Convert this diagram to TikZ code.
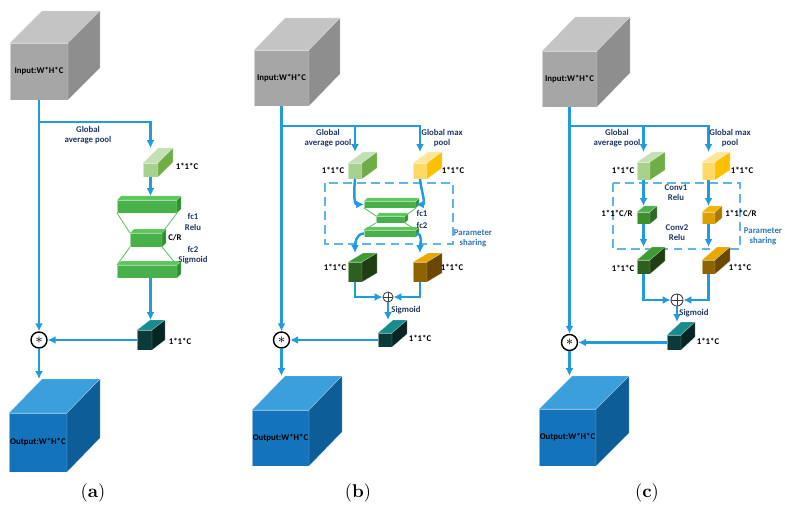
\documentclass[tikz,border=0pt]{standalone}
\usepackage{fontspec}
\newfontfamily\lblfont{Carlito}
\usetikzlibrary{arrows.meta,calc}

\definecolor{flowblue}{HTML}{1F9BDE}
\definecolor{shareblue}{HTML}{5DB6E8}
\definecolor{navy}{HTML}{1F3864}
\definecolor{psblue}{HTML}{2E75B6}
\definecolor{grayF}{HTML}{A6A6A6}\definecolor{grayT}{HTML}{C4C4C4}\definecolor{grayS}{HTML}{8E8E8E}
\definecolor{blueF}{HTML}{1474BB}\definecolor{blueT}{HTML}{3B9FDB}\definecolor{blueS}{HTML}{0D5E98}
\definecolor{lgreenF}{HTML}{A9D18E}\definecolor{lgreenT}{HTML}{C5E0B4}\definecolor{lgreenS}{HTML}{70AD47}
\definecolor{yellowF}{HTML}{FFD966}\definecolor{yellowT}{HTML}{FFE699}\definecolor{yellowS}{HTML}{FFC000}
\definecolor{fcF}{HTML}{48B048}\definecolor{fcT}{HTML}{5CC45C}\definecolor{fcS}{HTML}{2F8F2F}
\definecolor{dgreenF}{HTML}{2D5F1E}\definecolor{dgreenT}{HTML}{3E9A32}\definecolor{dgreenS}{HTML}{1F3F13}
\definecolor{brownF}{HTML}{8F6400}\definecolor{brownT}{HTML}{E8A800}\definecolor{brownS}{HTML}{6A4800}
\definecolor{tealF}{HTML}{0B3A3A}\definecolor{tealT}{HTML}{178C8C}\definecolor{tealS}{HTML}{062626}
\definecolor{rgreenF}{HTML}{3B8F2E}\definecolor{rgreenT}{HTML}{4CAF50}\definecolor{rgreenS}{HTML}{2C6B21}
\definecolor{orangeF}{HTML}{DDA000}\definecolor{orangeT}{HTML}{F2B600}\definecolor{orangeS}{HTML}{A87A00}

% name, x, y (front top left, px), width, height, depth x, depth y, colour, text
\newcommand{\cuboid}[9]{%
	\node[cubefront, fill=#8F, minimum width=#4*0.02cm, minimum height=#5*0.02cm] (#1) at (#2,-#3) {#9};
	\filldraw[cubeface, fill=#8T] (#1.north west) -- ++(#6,#7) -- ++(#4,0) -- (#1.north east) -- cycle;
	\filldraw[cubeface, fill=#8S] (#1.north east) -- ++(#6,#7) -- ++(0,-#5) -- (#1.south east) -- cycle;
	\coordinate (#1t) at ($(#1.north)+(0,#7)$);
}

\begin{document}
\begin{tikzpicture}[x=0.02cm, y=0.02cm]
	\tikzstyle{every node}=[inner sep=1pt]
	\tikzstyle{cubefront}=[anchor=north west, inner sep=0, outer sep=0, draw=white, draw opacity=0.5, line width=0.2pt, font=\lblfont\bfseries\fontsize{5}{6}\selectfont]
	\tikzstyle{cubeface}=[draw=white, draw opacity=0.5, line width=0.2pt, line join=round]
	\tikzstyle{flow}=[draw=flowblue, line width=1.4pt, -{Latex[length=4.5pt,width=4.5pt]}]
	\tikzstyle{fcline}=[draw=fcT, line width=0.5pt]
	\tikzstyle{share}=[draw=shareblue, line width=0.7pt, dash pattern=on 5pt off 3pt]
	\tikzstyle{lbl}=[align=center, inner sep=0, font=\lblfont\bfseries\fontsize{5}{5.8}\selectfont]
	\tikzstyle{lbln}=[lbl, text=navy]
	\tikzstyle{psl}=[lbl, text=psblue]
	\tikzstyle{mulop}=[circle, draw, line width=0.8pt, minimum size=16*0.02cm, inner sep=0, font=\fontsize{8}{8}\selectfont]
	\tikzstyle{addop}=[circle, draw=black!75, line width=0.5pt, minimum size=10*0.02cm, inner sep=0,
		path picture={\draw[black!75, line width=0.5pt] (path picture bounding box.north) -- (path picture bounding box.south) (path picture bounding box.west) -- (path picture bounding box.east);}]
	\tikzstyle{captext}=[font=\fontsize{10.5}{12}\selectfont]

	\useasboundingbox (0,0) rectangle (785,-510);

	% (a)
	\cuboid{ain}{10}{43}{58}{57}{32}{32}{gray}{Input:W*H*C}
	\cuboid{agap}{143}{163}{15}{14}{15}{15}{lgreen}{}
	\cuboid{afc1}{117}{200}{60}{13}{4}{4}{fc}{}
	\cuboid{acr}{130}{233}{32}{14}{4}{4}{fc}{}
	\cuboid{afc2}{117}{265}{60}{13}{4}{4}{fc}{}
	\cuboid{asig}{137}{330}{15}{20}{13}{10}{teal}{}
	\cuboid{aout}{9}{413}{58}{59}{33}{34}{blue}{Output:W*H*C}
	\node[mulop] (amul) at (39,-340) {$\ast$};
	\coordinate (asplit) at (39,-122);

	\draw[fcline] (afc1.south west) -- (acr.north west);
	\draw[fcline] (afc1.south east) -- (acr.north east);
	\draw[fcline] (acr.south west) -- (afc2.north west);
	\draw[fcline] (acr.south east) -- (afc2.north east);

	\draw[flow] (ain.south) -- (amul.north);
	\draw[flow] (asplit) -| (agapt);
	\draw[flow] (agap.south) -- (agap.south |- afc1t);
	\draw[flow] (agap.south |- afc2.south) -- (agap.south |- asigt);
	\draw[flow] (asig.west) -- (amul.east);
	\draw[flow] (amul.south) -- (amul.south |- aoutt);

	\node[lbln] (agpl) at (88,-135) {Global\\average pool};
	\node[lbl] (agapl) at (187,-166) {1*1*C};
	\node[lbln] (afc1l) at (193,-222) {fc1\\Relu};
	\node[lbl] (acrl) at (175,-238) {C/R};
	\node[lbln] (afc2l) at (193,-255) {fc2\\Sigmoid};
	\node[lbl] (asigl) at (180,-341) {1*1*C};
	\node[captext] (acap) at (93,-493) {(\textbf{a})};

	% (b)
	\draw[share] (325,-183) rectangle (453,-244);
	\cuboid{bin}{254}{50}{55}{56}{31}{32}{gray}{Input:W*H*C}
	\cuboid{bavg}{348}{163}{14}{16}{15}{11}{lgreen}{}
	\cuboid{bmax}{413}{163}{14}{16}{15}{11}{yellow}{}
	\cuboid{bfc1}{364}{201}{52}{7}{3}{3}{fc}{}
	\cuboid{bmid}{376}{216}{29}{7}{3}{3}{fc}{}
	\cuboid{bfc2}{364}{230}{52}{7}{3}{3}{fc}{}
	\cuboid{bavgo}{348}{262}{14}{20}{15}{9}{dgreen}{}
	\cuboid{bmaxo}{413}{262}{14}{20}{15}{9}{brown}{}
	\cuboid{bsig}{378}{333}{14}{14}{15}{13}{teal}{}
	\cuboid{bout}{252}{410}{57}{56}{33}{34}{blue}{Output:W*H*C}
	\node[addop] (badd) at (388,-297) {};
	\node[mulop] (bmul) at (281.5,-340) {$\ast$};
	\coordinate (bsplit) at (281.5,-126);

	\draw[fcline] (bfc1.south west) -- (bmid.north west);
	\draw[fcline] (bfc1.south east) -- (bmid.north east);
	\draw[fcline] (bmid.south west) -- (bfc2.north west);
	\draw[fcline] (bmid.south east) -- (bfc2.north east);

	\draw[flow] (bin.south) -- (bmul.north);
	\draw[flow] (bsplit) -| (bmaxt);
	\draw[flow] (bavgt |- bsplit) -- (bavgt);
	\draw[flow] (bavg.south) to[out=-95, in=180] (bfc1.west);
	\draw[flow] (bmax.south) to[out=-85, in=0] (bfc1.east);
	\draw[flow] (bfc2.west) to[out=180, in=90] (bavgot);
	\draw[flow] (bfc2.east) to[out=0, in=90] (bmaxot);
	\draw[flow] (bavgo.south) |- (badd.west);
	\draw[flow] (bmaxo.south) |- (badd.east);
	\draw[flow] (badd.south) -- (badd.south |- bsigt);
	\draw[flow] (bsig.west) -- (bmul.east);
	\draw[flow] (bmul.south) -- (bmul.south |- boutt);

	\node[lbln] (bgpl) at (328,-138) {Global\\average pool};
	\node[lbln] (bgml) at (442,-138) {Global max\\pool};
	\node[lbl] (bavgl) at (333,-170) {1*1*C};
	\node[lbl] (bmaxl) at (453,-170) {1*1*C};
	\node[lbln] (bfc1l) at (422,-213) {fc1};
	\node[lbln] (bfc2l) at (422,-225) {fc2};
	\node[psl] (bpsl) at (473,-238) {Parameter\\sharing};
	\node[lbl] (bavgol) at (335,-267) {1*1*C};
	\node[lbl] (bmaxol) at (452,-267) {1*1*C};
	\node[lbln] (bsigm) at (406,-310) {Sigmoid};
	\node[lbl] (bsigl) at (420,-338) {1*1*C};
	\node[captext] (bcap) at (358,-493) {(\textbf{b})};

	% (c)
	\draw[share] (613,-183) rectangle (740,-249);
	\cuboid{cin}{542}{51}{55}{56}{33}{34}{gray}{Input:W*H*C}
	\cuboid{cavg}{637}{162}{13}{18}{15}{10}{lgreen}{}
	\cuboid{cmax}{702}{162}{13}{18}{15}{10}{yellow}{}
	\cuboid{cavgr}{637}{212}{13}{12}{7}{6}{rgreen}{}
	\cuboid{cmaxr}{702}{212}{13}{12}{7}{6}{orange}{}
	\cuboid{cavgo}{637}{260}{13}{14}{15}{13}{dgreen}{}
	\cuboid{cmaxo}{702}{260}{13}{14}{15}{13}{brown}{}
	\cuboid{csig}{667}{335}{14}{15}{14}{13}{teal}{}
	\cuboid{cout}{539}{409}{57}{57}{33}{33}{blue}{Output:W*H*C}
	\node[addop, minimum size=12*0.02cm] (cadd) at (677,-300) {};
	\node[mulop] (cmul) at (569.5,-342.5) {$\ast$};
	\coordinate (csplit) at (569.5,-126);

	\draw[flow] (cin.south) -- (cmul.north);
	\draw[flow] (csplit) -| (cmaxt);
	\draw[flow] (cavgt |- csplit) -- (cavgt);
	\draw[flow] (cavg.south) -- (cavgrt);
	\draw[flow] (cmax.south) -- (cmaxrt);
	\draw[flow] (cavgr.south) -- (cavgot);
	\draw[flow] (cmaxr.south) -- (cmaxot);
	\draw[flow] (cavgo.south) |- (cadd.west);
	\draw[flow] (cmaxo.south) |- (cadd.east);
	\draw[flow] (cadd.south) -- (cadd.south |- csigt);
	\draw[flow] (csig.west) -- (cmul.east);
	\draw[flow] (cmul.south) -- (cmul.south |- coutt);

	\node[lbln] (cgpl) at (617,-138) {Global\\average pool};
	\node[lbln] (cgml) at (730,-138) {Global max\\pool};
	\node[lbl] (cavgl) at (623,-170) {1*1*C};
	\node[lbl] (cmaxl) at (742,-170) {1*1*C};
	\node[lbln] (cc1l) at (676,-193) {Conv1\\Relu};
	\node[lbl] (cavgrl) at (617,-214) {1*1*C/R};
	\node[lbl] (cmaxrl) at (741,-214) {1*1*C/R};
	\node[lbln] (cc2l) at (677,-233) {Conv2\\Relu};
	\node[psl] (cpsl) at (763,-236) {Parameter\\sharing};
	\node[lbl] (cavgol) at (623,-268) {1*1*C};
	\node[lbl] (cmaxol) at (740,-267) {1*1*C};
	\node[lbln] (csigm) at (694,-313) {Sigmoid};
	\node[lbl] (csigl) at (708,-341) {1*1*C};
	\node[captext] (ccap) at (647,-493) {(\textbf{c})};

\end{tikzpicture}
\end{document}
